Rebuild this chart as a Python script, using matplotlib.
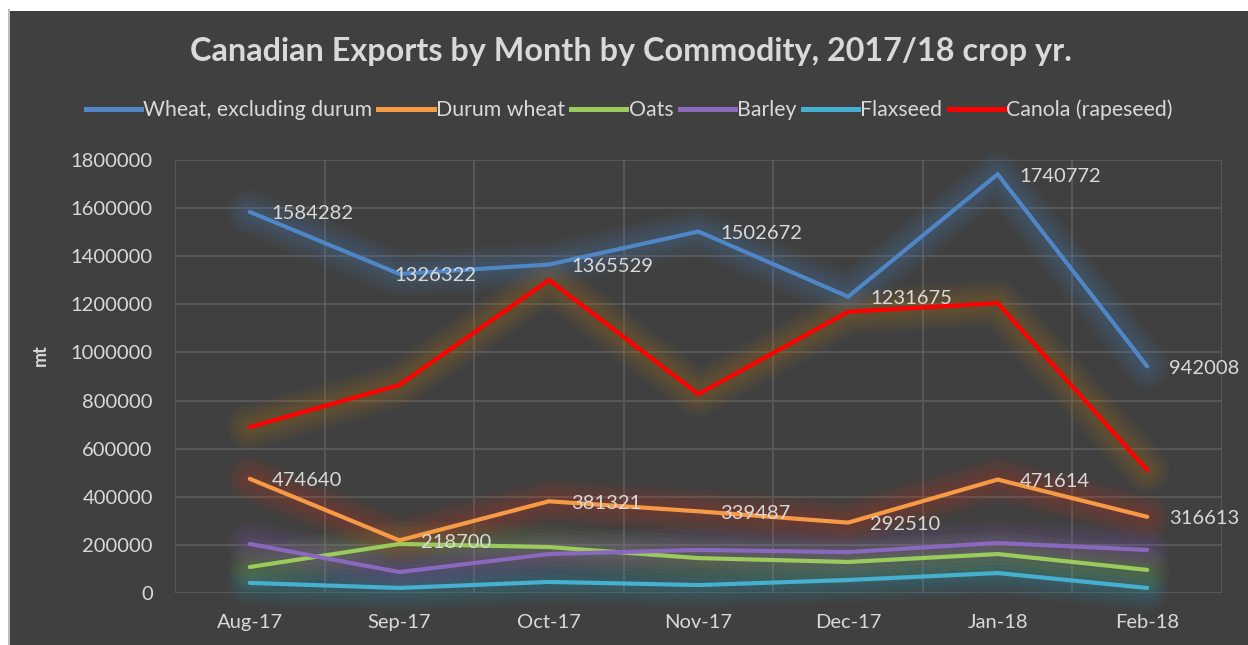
import matplotlib
matplotlib.use("Agg")
import matplotlib.pyplot as plt
from matplotlib.patches import Rectangle
from matplotlib.lines import Line2D
import numpy as np

months = ["Aug-17", "Sep-17", "Oct-17", "Nov-17", "Dec-17", "Jan-18", "Feb-18"]
wheat = [1584282, 1326322, 1365529, 1502672, 1231675, 1740772, 942008]
durum = [474640, 218700, 381321, 339487, 292510, 471614, 316613]
oats = [108000, 204000, 191000, 145000, 129000, 162000, 96000]
barley = [204000, 87000, 162000, 179000, 170000, 208000, 179000]
flaxseed = [42000, 21000, 46000, 33000, 54000, 83000, 21000]
canola = [690000, 865000, 1301000, 827000, 1169000, 1205000, 511000]

series_names = ["Wheat, excluding durum", "Durum wheat", "Oats", "Barley", "Flaxseed", "Canola (rapeseed)"]
series_vals = [wheat, durum, oats, barley, flaxseed, canola]
line_colors = ["#4f86c6", "#f79a45", "#9acb5c", "#8a68bd", "#45b0cf", "#ff0000"]
glow_colors = ["#4f86c6", "#d23a1a", "#7fb040", "#8a60c0", "#2aa0c0", "#c07a10"]
yticks = list(range(0, 1800001, 200000))

BG = "#404040"
TXT = "#d9d9d9"
FONT = "Lato"

W, H = 1248, 645
fig = plt.figure(figsize=(W / 100, H / 100), dpi=100, facecolor="white")
fig.patches.append(Rectangle((10 / W, 0), 1 - 10 / W, 1 - 11 / H, transform=fig.transFigure,
                             facecolor=BG, edgecolor="none", zorder=-10))
fig.patches.append(Rectangle((8 / W, 0), 2 / W, 1 - 9 / H, transform=fig.transFigure,
                             facecolor="#bfbfbf", edgecolor="none", zorder=-10))

ax = fig.add_axes([175 / W, 1 - 593 / H, (1222 - 175) / W, (593 - 160) / H], zorder=1)
ax.patch.set_alpha(0)

x = np.arange(len(months))
ax.set_xlim(-0.5, len(months) - 0.5)
ax.set_ylim(0, 1800000)

# grid
for yv in yticks:
    ax.axhline(yv, color="#5c5c5c", lw=1.2, zorder=1)
for xv in np.arange(-0.5, len(months), 1.0):
    ax.axvline(xv, color="#5c5c5c", lw=1.2, zorder=1)

# glow + lines
order = [4, 2, 3, 1, 5, 0]
for i in order:
    vals = series_vals[i]
    for lw in [32, 26, 20, 15, 10]:
        ax.plot(x, vals, color=glow_colors[i], lw=lw, alpha=0.06, solid_capstyle="round",
                solid_joinstyle="round", zorder=2, clip_on=False)
for i in order:
    vals = series_vals[i]
    ax.plot(x, vals, color=line_colors[i], lw=3.0, solid_capstyle="round",
            solid_joinstyle="miter", zorder=3, clip_on=False)

handles = [Line2D([0], [0], color=c, lw=3.6) for c in line_colors]

# data labels
for vals in [wheat, durum]:
    for xi, v in enumerate(vals):
        dx = 22
        if vals is wheat and xi == 1:
            dx = -5
        ax.annotate(f"{v}", (xi, v), xytext=(dx * 0.72, -2 * 0.72), textcoords="offset points",
                    ha="left", va="center", color=TXT, fontsize=14.5, family=FONT, zorder=5)

ax.set_yticks(yticks)
ax.set_yticklabels([str(t) for t in yticks])
ax.set_xticks(x)
ax.set_xticklabels(months)
ax.tick_params(axis="both", length=0, colors=TXT, labelsize=14.5)
ax.tick_params(axis="y", pad=16)
ax.tick_params(axis="x", pad=15)
for lab in ax.get_xticklabels() + ax.get_yticklabels():
    lab.set_family(FONT)
for s in ax.spines.values():
    s.set_visible(False)

fig.text(40 / W, 1 - 355 / H, "mt", rotation=90, ha="center", va="center", color=TXT,
         fontsize=13, fontweight="bold", family=FONT)

fig.text(631 / W, 1 - 51 / H, "Canadian Exports by Month by Commodity, 2017/18 crop yr.",
         ha="center", va="center", color=TXT, fontsize=23.3, fontweight="bold", family=FONT)

leg = fig.legend(handles, series_names, loc="center", bbox_to_anchor=(629 / W, 1 - 110 / H),
                 ncol=6, frameon=False, handlelength=2.6, handletextpad=0.1,
                 columnspacing=0.3, prop={"family": FONT, "size": 15.3})
for t in leg.get_texts():
    t.set_color(TXT)

fig.savefig("out.png", dpi=100, facecolor=fig.get_facecolor())
